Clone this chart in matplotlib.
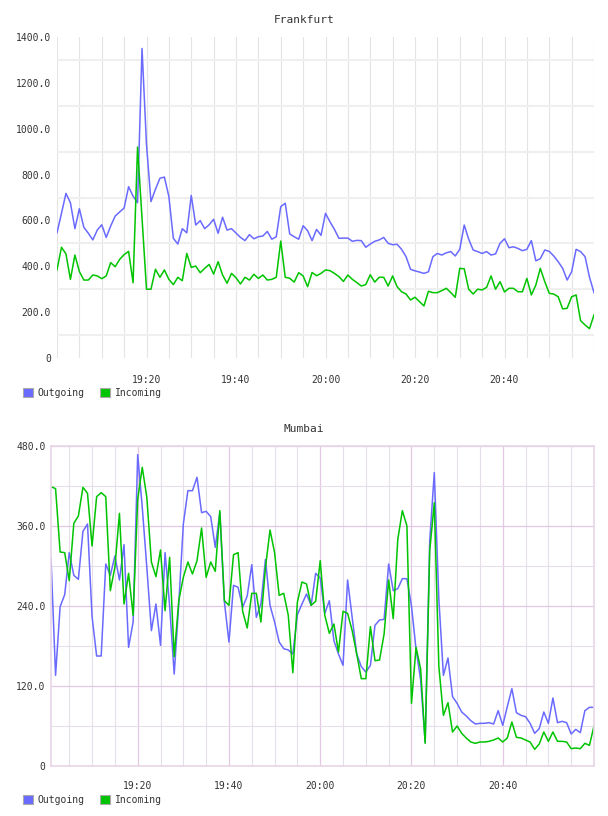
import numpy as np
import pandas as pd
import matplotlib
matplotlib.use("Agg")
import matplotlib.pyplot as plt
import matplotlib.dates as mdates
from matplotlib.patches import Patch
from matplotlib.ticker import FixedLocator, FixedFormatter

SERIES = ["Outgoing", "Incoming"]

FRA_TITLE = "Frankfurt"
FRA_TIMES = pd.date_range("2024-01-01 19:00", "2024-01-01 21:00", freq="min")
FRA_OUT = [546, 631, 718, 677, 564, 651, 570, 544, 515, 558,
           581, 526, 576, 619, 637, 654, 747, 706, 677, 1350,
           930, 682, 736, 784, 789, 704, 522, 497, 564, 546,
           709, 580, 599, 564, 581, 605, 544, 614, 558, 564,
           545, 526, 512, 538, 520, 529, 532, 552, 518, 529,
           660, 675, 541, 529, 518, 577, 555, 512, 561, 535,
           631, 594, 561, 522, 523, 523, 509, 513, 512, 483,
           497, 509, 515, 526, 500, 494, 496, 474, 442, 387,
           380, 375, 369, 376, 442, 456, 449, 459, 464, 445,
           474, 580, 518, 471, 464, 456, 464, 449, 454, 500,
           520, 481, 485, 478, 468, 474, 512, 424, 433, 471,
           465, 445, 420, 391, 340, 376, 474, 464, 442, 352,
           285]
FRA_IN = [384, 483, 454, 343, 449, 377, 340, 340, 362, 358,
          346, 358, 416, 398, 430, 451, 465, 328, 920, 610,
          300, 300, 387, 352, 384, 343, 320, 352, 337, 456,
          395, 401, 372, 391, 408, 366, 420, 362, 326, 369,
          350, 323, 352, 340, 365, 347, 362, 340, 343, 352,
          510, 352, 348, 331, 372, 358, 311, 373, 359, 369,
          384, 381, 369, 355, 334, 362, 343, 329, 314, 320,
          363, 331, 352, 352, 314, 358, 311, 289, 279, 253,
          265, 246, 227, 291, 285, 285, 294, 304, 285, 265,
          391, 389, 300, 279, 300, 297, 308, 358, 300, 333,
          288, 304, 304, 289, 289, 347, 275, 318, 391, 333,
          282, 279, 267, 214, 217, 267, 275, 163, 144, 128,
          188]
FRA_YTICKS = [0, 200, 400, 600, 800, 1000, 1200, 1400]
FRA_YLABELS = ["0", "200.0", "400.0", "600.0", "800.0", "1000.0", "1200.0", "1400.0"]

MUM_TITLE = "Mumbai"
MUM_TIMES = pd.date_range("2024-01-01 19:01", "2024-01-01 21:00", freq="min")
MUM_OUT = [312, 136, 239, 257, 320, 286, 280, 352, 363, 224,
           165, 165, 303, 286, 315, 279, 332, 178, 216, 467,
           388, 298, 203, 243, 181, 320, 240, 138, 243, 363,
           413, 413, 433, 380, 382, 374, 328, 380, 246, 186,
           271, 268, 238, 255, 302, 223, 243, 310, 241, 216,
           186, 176, 174, 168, 227, 243, 258, 241, 289, 282,
           229, 248, 188, 168, 151, 279, 223, 168, 149, 141,
           151, 211, 219, 220, 303, 263, 266, 281, 281, 240,
           175, 130, 36, 338, 440, 250, 136, 162, 104, 94,
           81, 75, 68, 63, 64, 64, 65, 63, 83, 61,
           89, 116, 80, 76, 74, 64, 49, 56, 81, 64,
           102, 65, 67, 65, 48, 55, 50, 83, 88, 88]
MUM_IN = [419, 416, 321, 320, 278, 364, 375, 418, 409, 330,
          404, 410, 404, 263, 298, 379, 243, 289, 226, 400,
          448, 403, 306, 284, 324, 233, 313, 164, 248, 283,
          306, 288, 308, 357, 283, 306, 292, 383, 248, 241,
          317, 320, 232, 207, 259, 259, 216, 298, 354, 320,
          256, 259, 226, 140, 246, 276, 273, 241, 247, 308,
          226, 199, 213, 171, 232, 229, 203, 168, 131, 131,
          209, 158, 159, 198, 279, 221, 340, 383, 360, 94,
          178, 146, 34, 323, 395, 149, 76, 95, 51, 60,
          49, 42, 36, 34, 36, 36, 37, 39, 42, 36,
          42, 66, 43, 42, 39, 36, 25, 33, 51, 37,
          51, 37, 37, 36, 26, 27, 26, 34, 31, 60]
MUM_YTICKS = [0, 120, 240, 360, 480]
MUM_YLABELS = ["0", "120.0", "240.0", "360.0", "480.0"]

XTICK_LABELS = ["19:20", "19:40", "20:00", "20:20", "20:40"]

# ---------------- style ----------------
BLUE = "#6a6aff"
GREEN = "#00c400"
TXT = "#333333"
FONT = "DejaVu Sans Mono"
plt.rcParams["font.family"] = [FONT, "DejaVu Sans"]

W, H = 608, 816
fig = plt.figure(figsize=(W / 100, H / 100), dpi=100)


def box(l, t, r, b):
    return [l / W, 1 - b / H, (r - l) / W, (b - t) / H]


def xtick_nums(times):
    day = times[0].strftime("%Y-%m-%d")
    return [mdates.date2num(pd.Timestamp(f"{day} {t}")) for t in XTICK_LABELS]


def setup(ax, times, yticks, ylabels, ygrid_minor, pad_x, pad_y):
    ax.set_xlim(times[0], times[-1])
    ax.set_ylim(yticks[0], yticks[-1])
    ax.xaxis.set_major_locator(FixedLocator(xtick_nums(times)))
    ax.xaxis.set_major_formatter(FixedFormatter(XTICK_LABELS))
    ax.xaxis.set_minor_locator(mdates.MinuteLocator(byminute=range(0, 60, 5)))
    ax.yaxis.set_major_locator(FixedLocator(yticks))
    ax.yaxis.set_major_formatter(FixedFormatter(ylabels))
    if ygrid_minor is not None:
        ax.yaxis.set_minor_locator(FixedLocator(ygrid_minor))
    ax.tick_params(which="both", length=0)
    ax.tick_params(axis="x", pad=pad_x, labelsize=7, labelcolor=TXT)
    ax.tick_params(axis="y", pad=pad_y, labelsize=7, labelcolor=TXT)
    ax.set_axisbelow(True)


def legend(ytop):
    handles = [Patch(facecolor=BLUE, edgecolor="#aaaaaa", linewidth=0.8),
               Patch(facecolor=GREEN, edgecolor="#aaaaaa", linewidth=0.8)]
    fig.legend(handles, SERIES, loc="center left",
               bbox_to_anchor=(23 / W, 1 - ytop / H), frameon=False, ncol=2,
               handlelength=1.05, handleheight=1.05, handletextpad=0.45,
               columnspacing=1.6, borderpad=0, borderaxespad=0,
               prop={"family": FONT, "size": 7}, labelcolor=TXT)


# ---------------- Frankfurt ----------------
ax1 = fig.add_axes(box(57, 37, 594, 358))
ax1.plot(FRA_TIMES, FRA_OUT, color=BLUE, lw=1.1, label=SERIES[0])
ax1.plot(FRA_TIMES, FRA_IN, color=GREEN, lw=1.1, label=SERIES[1])
setup(ax1, FRA_TIMES, FRA_YTICKS, FRA_YLABELS,
      [100, 300, 500, 700, 900, 1100, 1300], pad_x=12, pad_y=4.5)
for s in ax1.spines.values():
    s.set_visible(False)
ax1.grid(which="both", axis="x", color="#e4e4e4", lw=0.8)
ax1.grid(which="minor", axis="y", color="#efefef", lw=1.5)
ax1.grid(which="major", axis="y", visible=False)
fig.text(0.5, 1 - 20 / H, FRA_TITLE, ha="center", va="center",
         fontsize=8, color=TXT, family=FONT)
legend(393)

# ---------------- Mumbai ----------------
ax2 = fig.add_axes(box(51, 446, 594, 766))
ax2.plot(MUM_TIMES, MUM_OUT, color=BLUE, lw=1.1, label=SERIES[0])
ax2.plot(MUM_TIMES, MUM_IN, color=GREEN, lw=1.1, label=SERIES[1])
setup(ax2, MUM_TIMES, MUM_YTICKS, MUM_YLABELS,
      [60, 180, 300, 420], pad_x=11, pad_y=4)
for s in ax2.spines.values():
    s.set_color("#e8d6e8")
    s.set_linewidth(1.2)
ax2.grid(which="major", axis="x", color="#e2c8e2", lw=0.9)
ax2.grid(which="minor", axis="x", color="#e6dee8", lw=0.8)
ax2.grid(which="major", axis="y", color="#e2c8e2", lw=0.9)
ax2.grid(which="minor", axis="y", color="#e6dee8", lw=0.8)
fig.text(0.5, 1 - 429 / H, MUM_TITLE, ha="center", va="center",
         fontsize=8, color=TXT, family=FONT)
legend(800)

fig.savefig("out.png", dpi=100)
